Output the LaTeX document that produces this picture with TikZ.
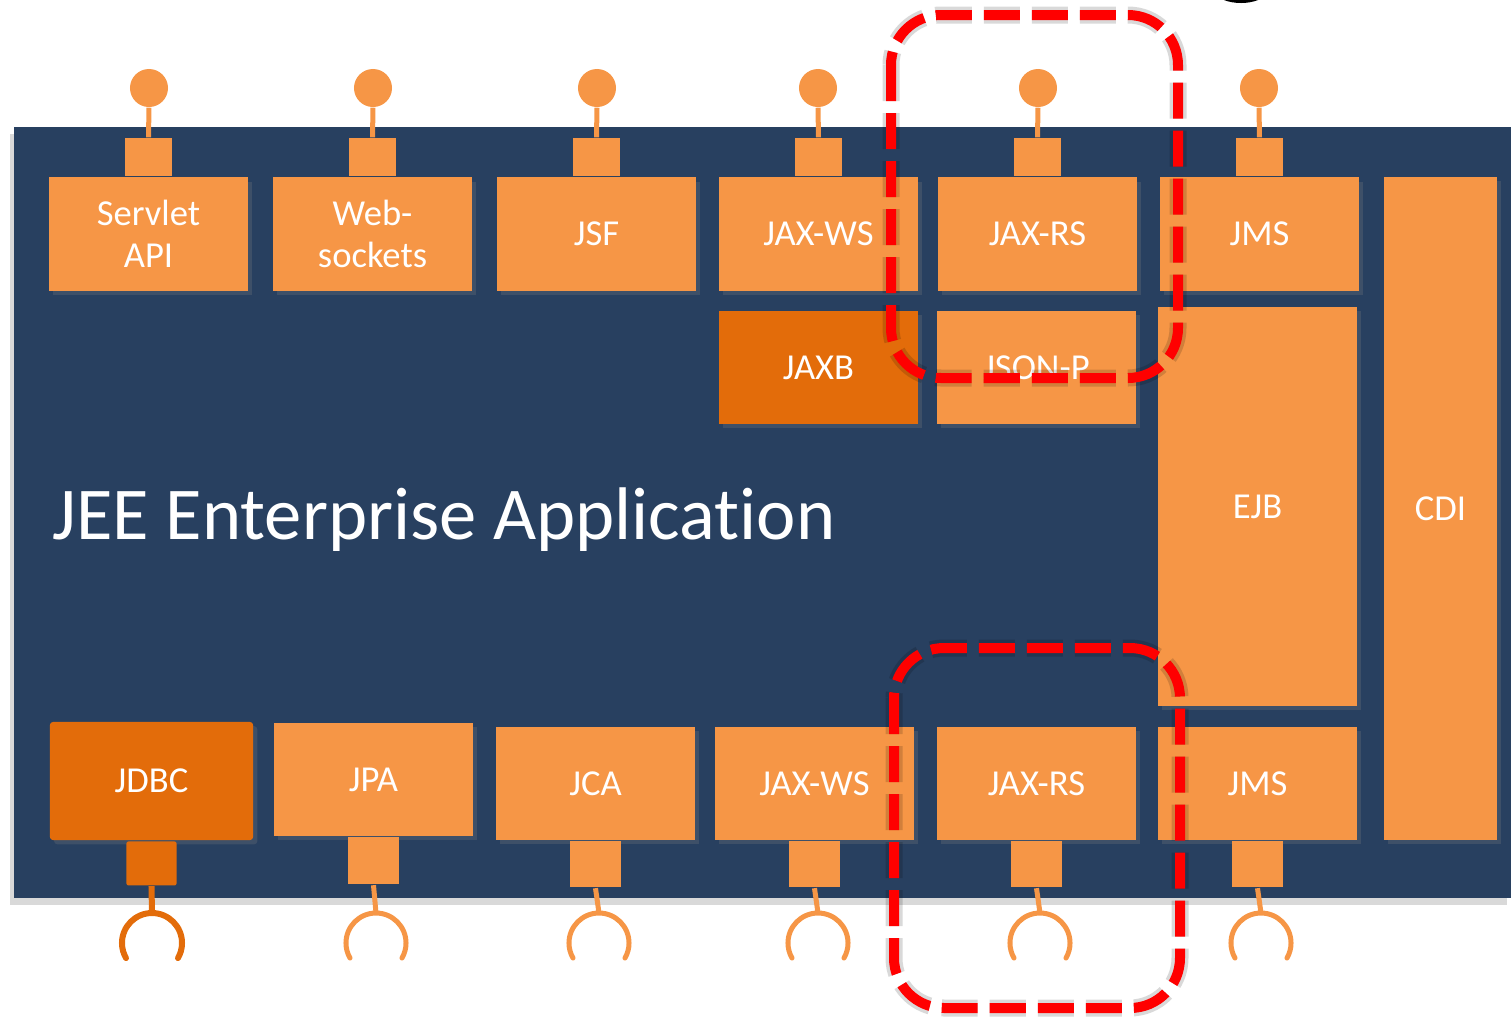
\documentclass[tikz,border=0pt]{standalone}
\usepackage{fontspec}
\setmainfont{Carlito}[Ligatures=NoCommon]
\usetikzlibrary{shadows}
\definecolor{appblue}{RGB}{40,64,96}
\definecolor{apiorange}{RGB}{246,150,70}
\definecolor{implorange}{RGB}{227,108,10}
\definecolor{markred}{RGB}{255,0,0}
\begin{document}
\begin{tikzpicture}[x=0.01cm, y=-0.01cm,
  apibox/.style={fill=apiorange, text=white, inner sep=0pt, align=center,
    minimum width=1.99cm, minimum height=1.13cm,
    font=\fontsize{10.4}{12}\selectfont,
    drop shadow={opacity=0.25, shadow xshift=1.2pt, shadow yshift=-1.2pt}},
  implbox/.style={apibox, fill=implorange},
  tab/.style={fill=apiorange, inner sep=0pt, minimum width=0.46cm, minimum height=0.38cm},
  plug/.style={circle, fill=apiorange, inner sep=0pt, minimum size=0.38cm},
  stem/.style={draw=apiorange, line width=0.05cm},
  socket/.style={draw=apiorange, line width=0.05cm, line cap=round},
  scope mark/.style={draw=markred, line width=0.1cm, rounded corners=0.5cm,
    dash pattern=on 0.36cm off 0.12cm},
  mark glow/.style={draw=black, opacity=0.15, line width=0.17cm, rounded corners=0.5cm,
    dash pattern=on 0.36cm off 0.12cm}]
\useasboundingbox (0,0) rectangle (1511,1017);
% Application
\fill[appblue, drop shadow={opacity=0.3, shadow xshift=-1pt, shadow yshift=-2pt}] (14,127) rectangle (1511,898);
\fill[black] (1224,0) .. controls (1234,4) and (1248,4) .. (1258,0) -- cycle;
\node[white, anchor=base west, font=\fontsize{21.2}{25}\selectfont] (title) at (40,539) {JEE Enterprise Application};
% Provided APIs
\node[apibox] (srv) at (148.5,234) {Servlet\\API};
\node[apibox] (wsk) at (372.5,234) {Web-\\sockets};
\node[apibox] (jsf) at (596.5,234) {JSF};
\node[apibox] (wsT) at (818.5,234) {JAX-WS};
\node[apibox] (rsT) at (1037.5,234) {JAX-RS};
\node[apibox] (jmsT) at (1259.5,234) {JMS};
% Provided tabs and plugs
\node[tab, anchor=south] (tsrv) at (srv.north) {};
\node[tab, anchor=south] (twsk) at (wsk.north) {};
\node[tab, anchor=south] (tjsf) at (jsf.north) {};
\node[tab, anchor=south] (twsT) at (wsT.north) {};
\node[tab, anchor=south] (trsT) at (rsT.north) {};
\node[tab, anchor=south] (tjmsT) at (jmsT.north) {};
\node[plug] (psrv) at (149,88) {};
\node[plug] (pwsk) at (373,88) {};
\node[plug] (pjsf) at (597,88) {};
\node[plug] (pwsT) at (818,88) {};
\node[plug] (prsT) at (1038,88) {};
\node[plug] (pjmsT) at (1259,88) {};
\draw[stem] (tsrv.north) -- (psrv.south);
\draw[stem] (twsk.north) -- (pwsk.south);
\draw[stem] (tjsf.north) -- (pjsf.south);
\draw[stem] (twsT.north) -- (pwsT.south);
\draw[stem] (trsT.north) -- (prsT.south);
\draw[stem] (tjmsT.north) -- (pjmsT.south);
% Inner parts
\node[implbox] (jaxb) at (818.5,367.5) {JAXB};
\node[apibox] (jsonp) at (1036.5,367.5) {JSON-P};
\node[apibox, minimum height=3.99cm] (ejb) at (1257.5,506.5) {EJB};
\node[apibox, minimum width=1.13cm, minimum height=6.63cm] (cdi) at (1440.5,508.5) {CDI};
% Required APIs
\node[implbox, minimum width=2.03cm, minimum height=1.18cm, rounded corners=0.03cm] (jdbc) at (151.5,781) {JDBC};
\node[apibox] (jpa) at (373.5,779.5) {JPA};
\node[apibox] (jca) at (595.5,783.5) {JCA};
\node[apibox] (wsB) at (814.5,783.5) {JAX-WS};
\node[apibox] (rsB) at (1036.5,783.5) {JAX-RS};
\node[apibox] (jmsB) at (1257.5,783.5) {JMS};
% Required tabs and sockets
\node[tab, fill=implorange, anchor=north, minimum width=0.5cm, minimum height=0.44cm, rounded corners=0.02cm] (tjdbc) at (jdbc.south) {};
\node[tab, anchor=north, minimum width=0.51cm, minimum height=0.47cm] (tjpa) at (jpa.south) {};
\node[tab, anchor=north, minimum width=0.5cm, minimum height=0.46cm] (tjca) at (jca.south) {};
\node[tab, anchor=north, minimum width=0.5cm, minimum height=0.46cm] (twsB) at (wsB.south) {};
\node[tab, anchor=north, minimum width=0.5cm, minimum height=0.46cm] (trsB) at (rsB.south) {};
\node[tab, anchor=north, minimum width=0.5cm, minimum height=0.46cm] (tjmsB) at (jmsB.south) {};
\coordinate (sjdbc) at (152,913);
\coordinate (sjpa) at (376,913);
\coordinate (sjca) at (599,913);
\coordinate (swsB) at (818,913);
\coordinate (srsB) at (1040,913);
\coordinate (sjmsB) at (1261,913);
\draw[stem, draw=implorange, line width=0.06cm] (tjdbc.south) -- (sjdbc);
\draw[stem] (tjpa.south) -- (sjpa);
\draw[stem] (tjca.south) -- (sjca);
\draw[stem] (twsB.south) -- (swsB);
\draw[stem] (trsB.south) -- (srsB);
\draw[stem] (tjmsB.south) -- (sjmsB);
\draw[socket, draw=implorange, line width=0.06cm] (sjdbc) arc[start angle=90, end angle=210, radius=0.3cm] (sjdbc) arc[start angle=90, end angle=-30, radius=0.3cm];
\draw[socket] (sjpa) arc[start angle=90, end angle=210, radius=0.3cm] (sjpa) arc[start angle=90, end angle=-30, radius=0.3cm];
\draw[socket] (sjca) arc[start angle=90, end angle=210, radius=0.3cm] (sjca) arc[start angle=90, end angle=-30, radius=0.3cm];
\draw[socket] (swsB) arc[start angle=90, end angle=210, radius=0.3cm] (swsB) arc[start angle=90, end angle=-30, radius=0.3cm];
\draw[socket] (srsB) arc[start angle=90, end angle=210, radius=0.3cm] (srsB) arc[start angle=90, end angle=-30, radius=0.3cm];
\draw[socket] (sjmsB) arc[start angle=90, end angle=210, radius=0.3cm] (sjmsB) arc[start angle=90, end angle=-30, radius=0.3cm];
% Highlight JAX-RS
\draw[mark glow] (891,15) rectangle (1178,378);
\draw[mark glow] (894,648) rectangle (1180,1008);
\draw[scope mark] (891,15) rectangle (1178,378);
\draw[scope mark] (894,648) rectangle (1180,1008);
\end{tikzpicture}
\end{document}
